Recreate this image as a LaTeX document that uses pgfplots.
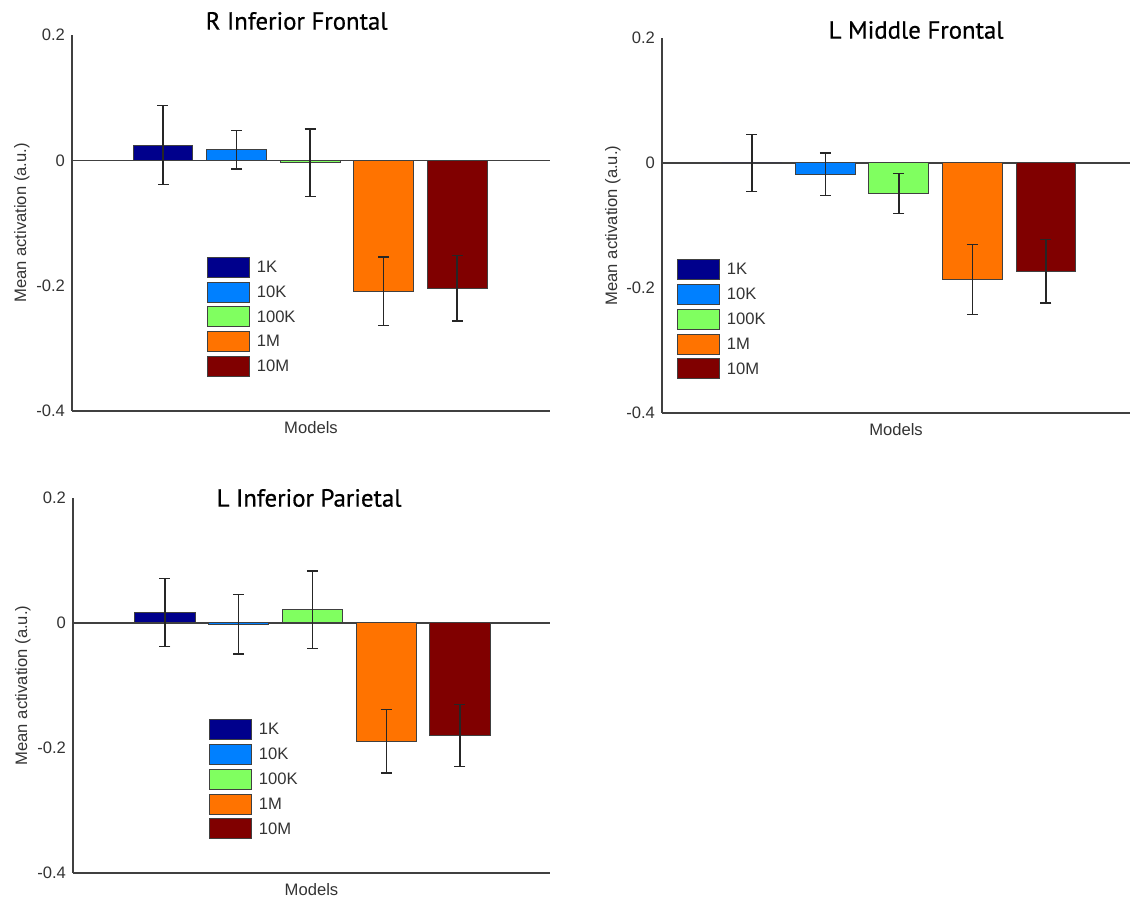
\documentclass[border=0pt]{standalone}
\usepackage{pgfplots}
\pgfplotsset{compat=1.18}
\usepackage{fontspec}
\setmainfont{Liberation Sans}
\newfontfamily\titlefont[BoldFont={PT Sans}, BoldFeatures={FakeBold=0.6}]{PT Sans}
\definecolor{cA}{RGB}{0,0,140}
\definecolor{cB}{RGB}{0,128,255}
\definecolor{cC}{RGB}{128,255,96}
\definecolor{cD}{RGB}{255,115,0}
\definecolor{cE}{RGB}{128,0,0}
\definecolor{axgray}{RGB}{64,64,64}
\pgfplotsset{
  panel/.style={
    scale only axis,
    axis x line=bottom, axis y line=left,
    axis line style={-, axgray, line width=0.6pt},
    ymin=-0.4, ymax=0.2,
    ytick={-0.4,-0.2,0,0.2},
    yticklabels={-0.4,-0.2,0,0.2},
    xtick=\empty,
    major tick length=0pt,
    extra y ticks={0},
    extra y tick labels={},
    extra y tick style={grid=major, major grid style={axgray, line width=0.6pt}},
    tick label style={font=\fontsize{8.3}{10}\selectfont, text=black!80},
    label style={font=\fontsize{8.3}{10}\selectfont, text=black!80},
    ylabel={Mean activation (a.u.)},
    xlabel={Models},
    ylabel style={at={(axis description cs:-0.105,0.5)}, anchor=center},
    xlabel style={at={(axis description cs:0.5,0)}, anchor=center, yshift=-8.5pt},
    title style={font=\titlefont\bfseries\fontsize{12.4}{14}\selectfont, anchor=center, text=black},
    ybar, bar width=0.816, bar shift=0pt,
    legend style={draw=none, fill=none, inner sep=0pt, outer sep=0pt,
      anchor=north west, row sep=1.9pt, column sep=3.5pt,
      font=\fontsize{8.3}{10}\selectfont, nodes={inner sep=0pt, text=black!80}},
    legend cell align=left,
  },
  mybar/.style={fill=#1, draw=black!75, line width=0.5pt,
    error bars/.cd, y dir=both, y explicit,
    error bar style={black!85, line width=0.65pt},
    error mark options={rotate=90, mark size=2.75pt, black!85, line width=0.65pt},
    /pgfplots/.cd,
    legend image code/.code={\draw[fill=#1, draw=black!75, line width=0.5pt] (0pt,-4.5pt) rectangle (21pt,5.5pt);}
  }
}
\begin{document}
\begin{tikzpicture}
\path[use as bounding box] (0,0) rectangle (565pt,451.5pt);
% Panel 1
\begin{axis}[panel, at={(36pt,246pt)}, anchor=south west,
  width=239pt, height=188pt, xmin=-0.238, xmax=6.265,
  title={R Inferior Frontal}, title style={at={(axis description cs:0.47,1)}, yshift=1pt},
  legend style={at={(axis description cs:0.282,0.41)}}]
\addplot[mybar=cA] coordinates {(1,0.024) +- (0,0.063)};
\addplot[mybar=cB] coordinates {(2,0.017) +- (0,0.031)};
\addplot[mybar=cC] coordinates {(3,-0.004) +- (0,0.054)};
\addplot[mybar=cD] coordinates {(4,-0.209) +- (0,0.0545)};
\addplot[mybar=cE] coordinates {(5,-0.204) +- (0,0.0525)};
\legend{1K,10K,100K,1M,10M}
\end{axis}
% Panel 2
\begin{axis}[panel, at={(331pt,245pt)}, anchor=south west,
  width=234pt, height=187.5pt, xmin=-0.224, xmax=6.143,
  title={L Middle Frontal}, title style={at={(axis description cs:0.543,1)}, yshift=-2pt},
  legend style={at={(axis description cs:0.032,0.41)}}]
\addplot[mybar=cA] coordinates {(1,0.0) +- (0,0.046)};
\addplot[mybar=cB] coordinates {(2,-0.018) +- (0,0.034)};
\addplot[mybar=cC] coordinates {(3,-0.049) +- (0,0.032)};
\addplot[mybar=cD] coordinates {(4,-0.186) +- (0,0.056)};
\addplot[mybar=cE] coordinates {(5,-0.173) +- (0,0.051)};
\legend{1K,10K,100K,1M,10M}
\end{axis}
% Panel 3
\begin{axis}[panel, at={(36.5pt,15pt)}, anchor=south west,
  width=238.5pt, height=187.5pt, xmin=-0.247, xmax=6.221,
  title={L Inferior Parietal}, title style={at={(axis description cs:0.495,1)}, yshift=-6pt},
  legend style={at={(axis description cs:0.285,0.41)}}]
\addplot[mybar=cA] coordinates {(1,0.0166) +- (0,0.0545)};
\addplot[mybar=cB] coordinates {(2,-0.002) +- (0,0.0475)};
\addplot[mybar=cC] coordinates {(3,0.0214) +- (0,0.062)};
\addplot[mybar=cD] coordinates {(4,-0.189) +- (0,0.051)};
\addplot[mybar=cE] coordinates {(5,-0.180) +- (0,0.050)};
\legend{1K,10K,100K,1M,10M}
\end{axis}
\end{tikzpicture}
\end{document}
